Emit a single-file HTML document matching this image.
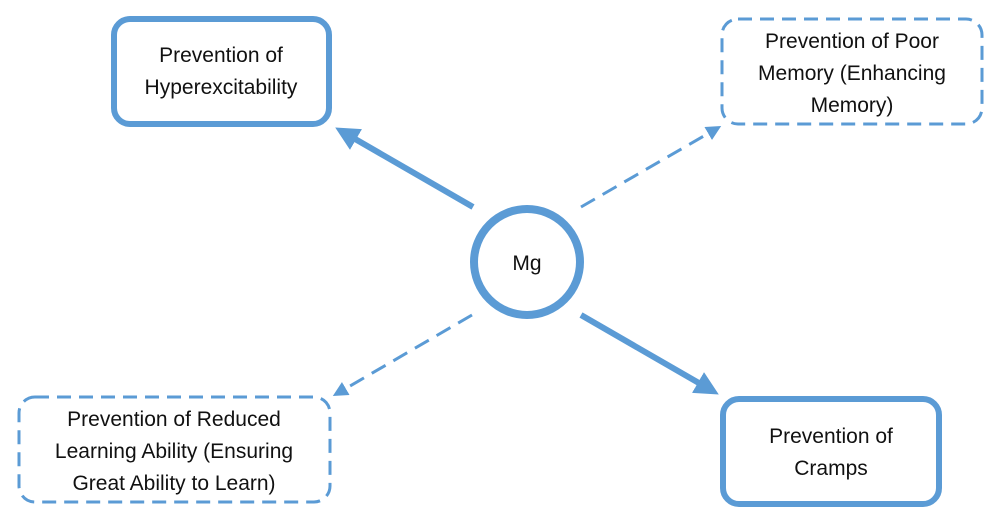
<!DOCTYPE html>
<html><head><style>
body{margin:0;width:1000px;height:520px;background:#fff;overflow:hidden}
svg text{font-family:"Liberation Sans",sans-serif;font-size:21px;fill:#111}
</style></head><body>
<svg width="1000" height="520" viewBox="0 0 1000 520">
<defs>
<marker id="a" markerWidth="4" markerHeight="4" refX="2.5" refY="2" orient="auto" markerUnits="strokeWidth"><path d="M0,0 L4,2 L0,4 z" fill="#5b9bd5"/></marker>
<marker id="b" markerWidth="5" markerHeight="5" refX="3" refY="2.5" orient="auto" markerUnits="strokeWidth"><path d="M0,0 L5,2.5 L0,5 z" fill="#5b9bd5"/></marker>
</defs>
<g stroke="#5b9bd5" fill="none">
<rect x="114" y="19" width="215" height="105" rx="16" stroke-width="6"/>
<rect x="722" y="19" width="260" height="105" rx="16" stroke-width="3" stroke-dasharray="14,8"/>
<rect x="19" y="397" width="311" height="105" rx="16" stroke-width="3" stroke-dasharray="14,8"/>
<rect x="723" y="399" width="216" height="105" rx="16" stroke-width="6"/>
<circle cx="527" cy="262" r="53" stroke-width="8"/>
<line x1="473" y1="207" x2="343" y2="132" stroke-width="6" marker-end="url(#a)"/>
<line x1="581" y1="207" x2="716" y2="129" stroke-width="3" stroke-dasharray="16,9" marker-end="url(#b)"/>
<line x1="472" y1="315" x2="338" y2="393" stroke-width="3" stroke-dasharray="16,9" marker-end="url(#b)"/>
<line x1="581" y1="315" x2="711" y2="390" stroke-width="6" marker-end="url(#a)"/>
</g>
<g text-anchor="middle">
<text x="221" y="62">Prevention of</text>
<text x="221" y="94">Hyperexcitability</text>
<text x="852" y="48">Prevention of Poor</text>
<text x="852" y="80">Memory (Enhancing</text>
<text x="852" y="112">Memory)</text>
<text x="174" y="426">Prevention of Reduced</text>
<text x="174" y="458">Learning Ability (Ensuring</text>
<text x="174" y="490">Great Ability to Learn)</text>
<text x="831" y="443">Prevention of</text>
<text x="831" y="475">Cramps</text>
<text x="527" y="270">Mg</text>
</g>
</svg>
</body></html>
